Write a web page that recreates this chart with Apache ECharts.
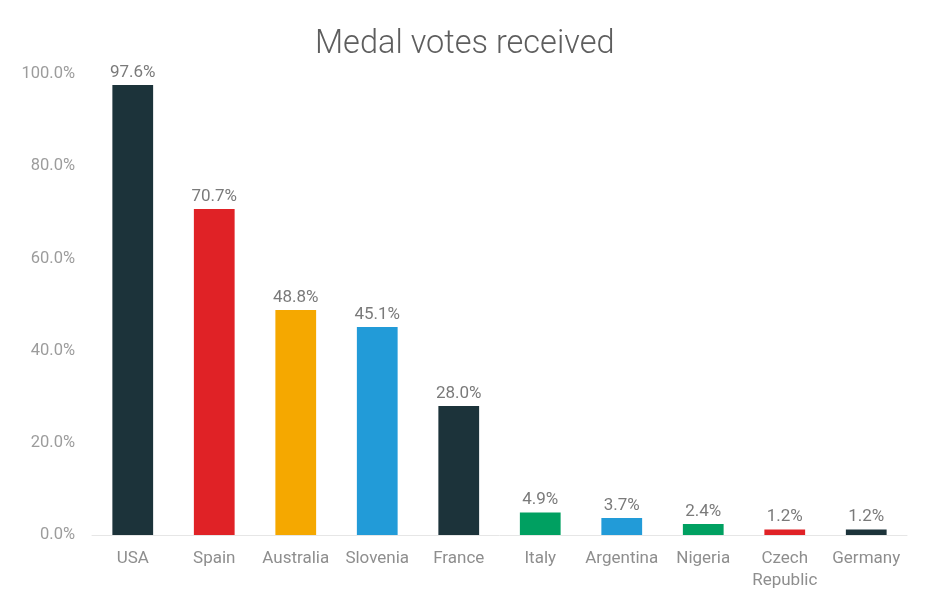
<!DOCTYPE html>
<html><head><meta charset="utf-8">
<script src="https://cdn.jsdelivr.net/npm/echarts@6/dist/echarts.min.js"></script>
<style>html,body{margin:0;padding:0;background:#fff}#c{width:940px;height:601px}</style>
</head><body><div id="c"></div>
<script>
const categories = ["USA","Spain","Australia","Slovenia","France","Italy","Argentina","Nigeria","Czech\nRepublic","Germany"];
const values = [97.6,70.7,48.8,45.1,28.0,4.9,3.7,2.4,1.2,1.2];
const barColors = ["#1c333a","#e02226","#f5a800","#229bd8","#1c333a","#00a061","#229bd8","#00a061","#e02226","#1c333a"];
const yTicks = [0,20,40,60,80,100];

const chart = echarts.init(document.getElementById('c'));
chart.setOption({
  animation:false,
  title:{text:"Medal votes received",left:310,top:23,textStyle:{fontFamily:"Roboto",fontWeight:300,fontSize:32.5,color:"#5e5e5e"}},
  grid:{left:92,right:33,top:74,bottom:66},
  xAxis:{type:'category',data:categories,axisTick:{show:false},
    axisLine:{lineStyle:{color:'#e6e6e6'}},
    axisLabel:{interval:0,color:'#8e8e8e',fontFamily:'Roboto',fontSize:17,margin:13,lineHeight:22}},
  yAxis:{type:'value',min:yTicks[0],max:yTicks[yTicks.length-1],interval:20,splitLine:{show:false},
    axisLine:{show:false},axisTick:{show:false},
    axisLabel:{color:'#9c9c9c',fontFamily:'Roboto',fontSize:16.5,margin:17,formatter:v=>v.toFixed(1)+'%'}},
  series:[{type:'bar',barWidth:'50%',
    data:values.map((v,i)=>({value:v,itemStyle:{color:barColors[i]}})),
    label:{show:true,position:'top',distance:4,color:'#7a7a7a',fontFamily:'Roboto',fontSize:17,formatter:p=>p.value.toFixed(1)+'%'}}]
});
</script></body></html>
